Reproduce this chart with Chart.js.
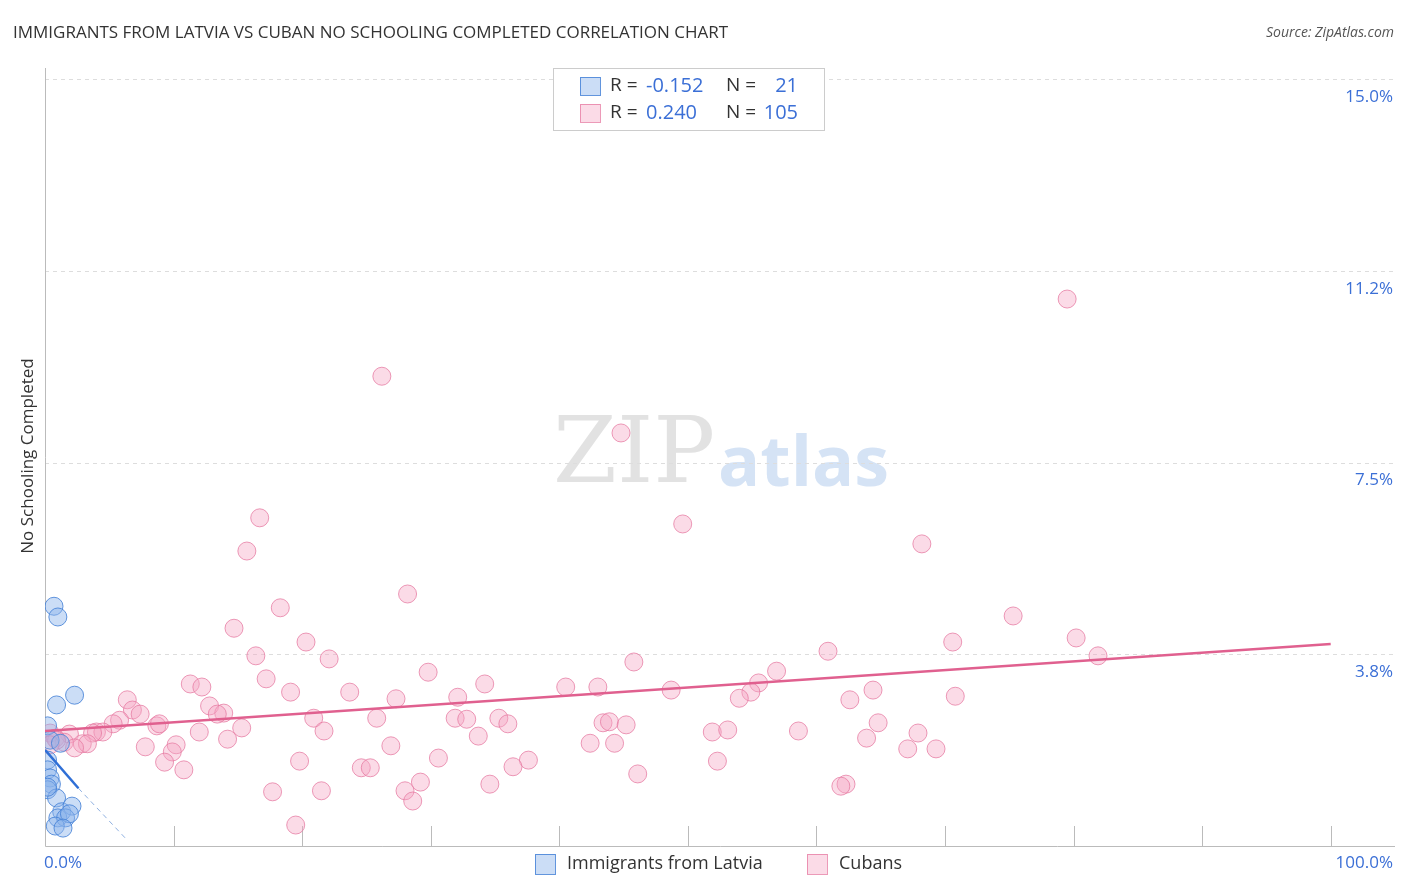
<!DOCTYPE html>
<html>
<head>
<meta charset="utf-8">
<script src="https://cdn.jsdelivr.net/npm/chart.js@4.4.0/dist/chart.umd.min.js"></script>
<style>
html, body { margin: 0; padding: 0; background: #fff; }
canvas { display: block; }
</style>
</head>
<body>
<canvas id="myChart" width="1406" height="892"></canvas>
<script>
// values (x in %, y in %)
var latviaX = [0.7, 1.0, 2.3, 0.9, 0.2, 0.4, 1.2, 0.2, 0.2, 0.4, 0.5, 0.2, 0.9, 1.3, 2.1, 1.0, 1.6, 1.9, 0.8, 1.4, 0.2]
var latviaY = [4.69, 4.48, 2.95, 2.76, 2.35, 2.07, 2.01, 1.68, 1.49, 1.33, 1.21, 1.10, 0.94, 0.67, 0.78, 0.55, 0.55, 0.63, 0.39, 0.35, 1.15]

var cubanX = [79.5, 26.2, 44.8, 16.7, 49.6, 15.7, 68.2, 28.2, 18.3, 75.3, 14.7, 20.3, 80.2, 70.6, 16.4, 60.9, 22.1, 81.9, 45.8, 29.8,
    56.9, 17.2, 11.3, 12.2, 34.2, 23.7, 19.1, 40.5, 43.0, 48.7, 64.4, 55.5, 6.4, 32.1, 27.3, 54.9, 54.0, 70.8, 62.6, 12.8,
    6.8, 13.9, 7.4, 13.4, 5.8, 5.3, 4.0, 8.7, 8.9, 20.9, 25.8, 31.9, 32.8, 35.3, 36.0, 43.4, 43.9, 45.2, 64.8, 15.3,
    21.7, 12.0, 4.5, 3.7, 1.9, 0.4, 0.8, 1.5, 2.9, 3.3, 14.2, 33.7, 51.9, 53.1, 58.6, 67.9, 63.9, 7.8, 10.2, 9.9,
    26.9, 42.4, 44.3, 2.3, 67.1, 69.3, 19.8, 30.6, 9.3, 37.6, 52.3, 36.4, 24.6, 25.3, 10.8, 46.1, 29.2, 34.6, 62.3, 61.9,
    17.7, 21.5, 28.0, 28.6, 19.5, 0.9, 0.4]
var cubanY = [10.70, 9.19, 8.08, 6.42, 6.30, 5.77, 5.91, 4.93, 4.66, 4.50, 4.26, 3.99, 4.07, 3.99, 3.72, 3.81, 3.66, 3.72, 3.60, 3.40,
    3.42, 3.27, 3.17, 3.11, 3.17, 3.01, 3.01, 3.11, 3.11, 3.05, 3.05, 3.19, 2.86, 2.91, 2.88, 3.01, 2.89, 2.93, 2.86, 2.74,
    2.66, 2.60, 2.58, 2.58, 2.46, 2.39, 2.23, 2.35, 2.39, 2.50, 2.50, 2.50, 2.48, 2.50, 2.39, 2.41, 2.43, 2.37, 2.41, 2.31,
    2.25, 2.23, 2.23, 2.21, 2.19, 2.21, 2.11, 2.03, 2.00, 2.00, 2.09, 2.15, 2.23, 2.27, 2.25, 2.21, 2.11, 1.94, 1.98, 1.84,
    1.96, 2.01, 2.01, 1.92, 1.90, 1.90, 1.66, 1.72, 1.64, 1.68, 1.66, 1.55, 1.53, 1.53, 1.49, 1.41, 1.25, 1.21, 1.21, 1.17,
    1.06, 1.08, 1.08, 0.88, 0.41, 2.07, 1.98]

var latviaTrendX = [0, 2.6]
var latviaTrendY = [1.88, 1.13]
var latviaDashX = [2.6, 6.3]
var latviaDashY = [1.13, 0.14]
var cubanTrendX = [0, 100]
var cubanTrendY = [2.25, 3.95]

var yTicks = [3.75, 7.5, 11.25, 15]
var yTickLabels = ["3.8%", "7.5%", "11.2%", "15.0%"]
var xTicks = [10, 20, 30, 40, 50, 60, 70, 80, 90, 100]

var seriesNames = ["Immigrants from Latvia", "Cubans"]
var rValues = ["-0.152", "0.240"]
var nValues = ["21", "105"]

var FONT = '"Open Sans", "DejaVu Sans", sans-serif'
var BLUE_FILL = 'rgba(140,180,235,0.45)', BLUE_LINE = 'rgba(70,130,215,0.85)'
var PINK_FILL = 'rgba(245,165,195,0.40)', PINK_LINE = 'rgba(230,120,160,0.75)'
var VAL = '#3b6fd6'

function pts(xs, ys) {
    var out = []
    for (var i = 0; i < xs.length; i++) out.push({ x: xs[i], y: ys[i] })
    return out
}

var decor = {
    id: 'decor',
    beforeDatasetsDraw: function (chart) {
        var c = chart.ctx, xs = chart.scales.x, ys = chart.scales.y, a = chart.chartArea
        c.save()
        // watermark
        c.font = '92px "DejaVu Serif", serif'
        c.fillStyle = 'rgba(190,190,190,0.45)'
        c.textBaseline = 'middle'
        c.fillText('ZIP', 553, 458)
        c.font = 'bold 70px ' + FONT
        c.fillStyle = 'rgba(150,185,230,0.40)'
        c.fillText('atlas', 718, 466)
        // grid
        c.strokeStyle = '#dddddd'
        c.lineWidth = 1
        c.setLineDash([4, 4])
        yTicks.forEach(function (v) {
            var y = Math.round(ys.getPixelForValue(v)) + 0.5
            c.beginPath(); c.moveTo(a.left, y); c.lineTo(a.right, y); c.stroke()
        })
        c.setLineDash([])
        // axes
        c.strokeStyle = '#bbbbbb'
        c.beginPath(); c.moveTo(a.left + 0.5, 68); c.lineTo(a.left + 0.5, a.bottom + 0.5); c.lineTo(a.right, a.bottom + 0.5); c.stroke()
        xTicks.forEach(function (v) {
            var x = Math.round(xs.getPixelForValue(v)) + 0.5
            c.beginPath(); c.moveTo(x, a.bottom); c.lineTo(x, a.bottom - 20); c.stroke()
        })
        c.restore()
    },
    afterDraw: function (chart) {
        var c = chart.ctx, xs = chart.scales.x, ys = chart.scales.y, a = chart.chartArea
        c.save()
        c.textBaseline = 'middle'
        // title + source
        c.font = '17px ' + FONT
        c.fillStyle = '#333'
        c.textAlign = 'left'
        c.fillText('IMMIGRANTS FROM LATVIA VS CUBAN NO SCHOOLING COMPLETED CORRELATION CHART', 13, 33)
        c.font = 'italic 14px ' + FONT
        c.fillStyle = '#555'
        c.textAlign = 'right'
        c.fillText('Source: ZipAtlas.com', 1394, 33)
        // y tick labels
        c.font = '17px ' + FONT
        c.fillStyle = VAL
        yTicks.forEach(function (v, i) {
            c.fillText(yTickLabels[i], 1393, ys.getPixelForValue(v) + 18)
        })
        // x labels
        c.textAlign = 'left'
        c.fillText('0.0%', 44, 863)
        c.textAlign = 'right'
        c.fillText('100.0%', 1393, 863)
        // y axis title
        c.save()
        c.translate(28, 456)
        c.rotate(-Math.PI / 2)
        c.textAlign = 'center'
        c.fillStyle = '#333'
        c.font = '17px ' + FONT
        c.fillText('No Schooling Completed', 0, 0)
        c.restore()
        // stats box
        c.fillStyle = '#fff'
        c.strokeStyle = '#cccccc'
        c.fillRect(553, 68, 271, 62)
        c.strokeRect(553.5, 68.5, 271, 62)
        var fills = [BLUE_FILL, PINK_FILL], lines = [BLUE_LINE, PINK_LINE]
        for (var i = 0; i < 2; i++) {
            var cy = 86 + i * 27
            c.fillStyle = fills[i]; c.strokeStyle = lines[i]
            c.fillRect(580, cy - 9, 20, 18); c.strokeRect(580.5, cy - 8.5, 20, 18)
            c.font = '19px ' + FONT
            c.textAlign = 'left'
            c.fillStyle = '#333'
            c.fillText('R =', 610, cy)
            c.fillText('N =', 726, cy)
            c.fillStyle = VAL
            c.font = '20px ' + FONT
            c.fillText(rValues[i], 646, cy)
            c.textAlign = 'right'
            c.fillText(nValues[i], 798, cy)
        }
        // bottom legend
        var lx = [535, 807]
        for (var j = 0; j < 2; j++) {
            c.fillStyle = fills[j]; c.strokeStyle = lines[j]
            c.fillRect(lx[j], 854, 20, 20); c.strokeRect(lx[j] + 0.5, 854.5, 20, 20)
            c.fillStyle = '#333'
            c.textAlign = 'left'
            c.font = '18px ' + FONT
            c.fillText(seriesNames[j], lx[j] + 32, 864)
        }
        c.restore()
    }
}

function Graphic() {
    var ctx = document.getElementById('myChart')
    new Chart(ctx, {
        type: 'scatter',
        data: {
            datasets: [
                { data: pts(cubanTrendX, cubanTrendY), type: 'line', borderColor: '#e0608f', borderWidth: 2.5, pointRadius: 0, order: 0 },
                { data: pts(latviaTrendX, latviaTrendY), type: 'line', borderColor: '#2f6fd6', borderWidth: 2.5, pointRadius: 0, order: 0 },
                { data: pts(latviaDashX, latviaDashY), type: 'line', borderColor: '#8fb0e0', borderWidth: 1, borderDash: [5, 4], pointRadius: 0, order: 0 },
                { data: pts(cubanX, cubanY), backgroundColor: PINK_FILL, borderColor: PINK_LINE, borderWidth: 1, pointRadius: 9, order: 2 },
                { data: pts(latviaX, latviaY), backgroundColor: BLUE_FILL, borderColor: BLUE_LINE, borderWidth: 1, pointRadius: 9, order: 1 }
            ]
        },
        options: {
            responsive: false,
            animation: false,
            events: [],
            layout: { padding: { left: 45, right: 11, top: 69, bottom: 46 } },
            scales: {
                x: { type: 'linear', min: 0, max: 105, display: false },
                y: { type: 'linear', min: 0, max: 15.2, display: false }
            },
            plugins: { legend: { display: false }, tooltip: { enabled: false } }
        },
        plugins: [decor]
    })
}

window.addEventListener('load', Graphic)
</script>
</body>
</html>
